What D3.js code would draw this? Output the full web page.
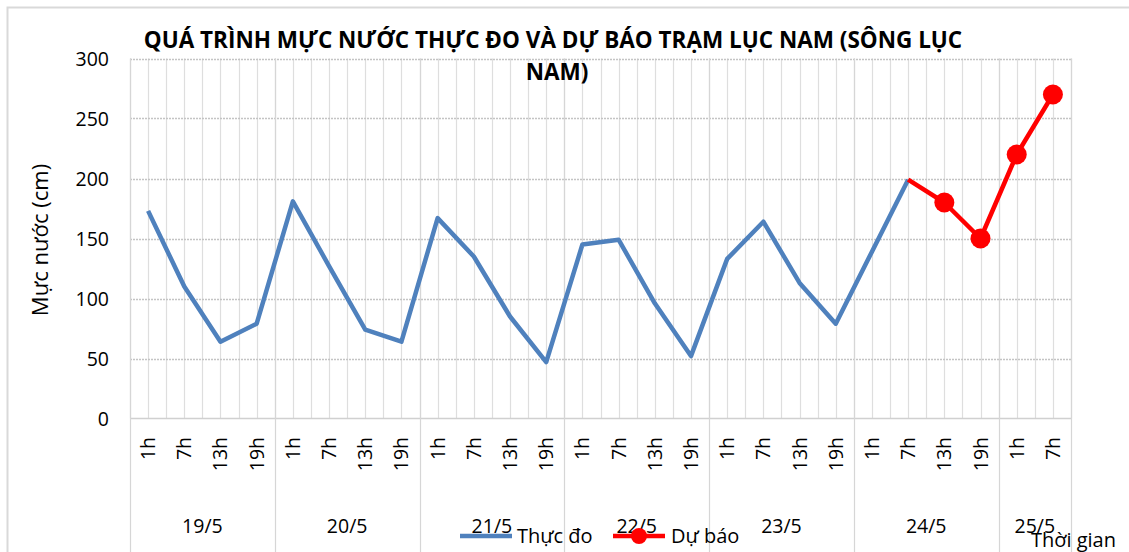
<!DOCTYPE html>
<html>
<head>
<meta charset="utf-8">
<style>
  body { margin: 0; background: #fff; }
  svg text { font-family: "Open Sans", "Noto Sans", sans-serif; fill: #000; }
</style>
</head>
<body>
<svg width="1129" height="552"></svg>
<script src="https://d3js.org/d3.v7.min.js"></script>
<script>

    // days and hours on the category axis
    var days = ["19/5", "20/5", "21/5", "22/5", "23/5", "24/5", "25/5"];
    var hoursPerDay = [4, 4, 4, 4, 4, 4, 2];
    var hourLabels = ["1h", "7h", "13h", "19h"];

    // measured water level (cm), 19/5 1h .. 24/5 7h
    var observed = [173, 110, 64, 79, 181, 127, 74, 64, 167, 135, 85, 47,
                    145, 149, 96, 52, 133, 164, 113, 79, 139, 199];

    // forecast, 24/5 7h .. 25/5 7h (first point joins the observed line)
    var forecastStart = 21;
    var forecast = [199, 180, 150, 220, 270];

    var yTicks = [0, 50, 100, 150, 200, 250, 300];

    var title1 = "QUÁ TRÌNH MỰC NƯỚC THỰC ĐO VÀ DỰ BÁO TRẠM LỤC NAM (SÔNG LỤC";
    var title2 = "NAM)";

    // build the flat list of categories
    var cats = [];
    days.forEach(function (d, di) {
        for (var h = 0; h < hoursPerDay[di]; h++) {
            cats.push({day: d, dayIndex: di, hour: hourLabels[h]});
        }
    });

    var svg = d3.select("svg"),
        plotL = 130, plotR = 1071, plotT = 58.5, plotB = 418.5;

    var x = d3.scaleBand().domain(d3.range(cats.length)).range([plotL, plotR]).padding(0);
    var bw = x.bandwidth();
    var y = d3.scaleLinear().domain([0, 300]).range([plotB, plotT]);
    var cx = function (i) { return x(i) + bw / 2; };

    // chart frame
    svg.append("rect")
        .attr("x", 7.5).attr("y", 7.5).attr("width", 1130).attr("height", 560)
        .attr("fill", "none").attr("stroke", "#d9d9d9").attr("stroke-width", 2);

    // vertical gridlines at every category edge and center
    var vLines = [];
    cats.forEach(function (c, i) { vLines.push(x(i)); vLines.push(cx(i)); });
    vLines.push(plotR);
    svg.append("g").selectAll("line").data(vLines).enter().append("line")
        .attr("x1", function (d) { return Math.round(d) + 0.5; })
        .attr("x2", function (d) { return Math.round(d) + 0.5; })
        .attr("y1", plotT).attr("y2", plotB)
        .attr("stroke", "#dedede").attr("stroke-width", 1.2);

    // horizontal gridlines
    svg.append("g").selectAll("line").data(yTicks.slice(1)).enter().append("line")
        .attr("x1", plotL).attr("x2", plotR)
        .attr("y1", function (d) { return Math.round(y(d)) + 0.5; })
        .attr("y2", function (d) { return Math.round(y(d)) + 0.5; })
        .attr("stroke", "#c4c4c4").attr("stroke-width", 1.4)
        .attr("stroke-dasharray", "2,1");

    // baseline
    svg.append("line")
        .attr("x1", plotL).attr("x2", plotR).attr("y1", plotB).attr("y2", plotB)
        .attr("stroke", "#d0d0d0").attr("stroke-width", 1.5);

    // day separators running down through the label area
    var sepIdx = [0];
    var acc = 0;
    hoursPerDay.forEach(function (n) { acc += n; sepIdx.push(acc); });
    svg.append("g").selectAll("line").data(sepIdx).enter().append("line")
        .attr("x1", function (i) { return Math.round(i < cats.length ? x(i) : plotR) + 0.5; })
        .attr("x2", function (i) { return Math.round(i < cats.length ? x(i) : plotR) + 0.5; })
        .attr("y1", plotT).attr("y2", 552)
        .attr("stroke", "#d6d6d6").attr("stroke-width", 1.2);

    // y axis labels
    svg.append("g").selectAll("text").data(yTicks).enter().append("text")
        .attr("x", 109).attr("y", function (d) { return y(d) + 7; })
        .attr("text-anchor", "end").style("font-size", "19.5px")
        .text(function (d) { return d; });

    // y axis title
    svg.append("text")
        .attr("transform", "translate(48,240) rotate(-90)")
        .attr("text-anchor", "middle").style("font-size", "22px")
        .text("Mực nước (cm)");

    // hour labels (rotated)
    svg.append("g").selectAll("text").data(cats).enter().append("text")
        .attr("transform", function (d, i) { return "translate(" + (cx(i) + 7) + ",437) rotate(-90)"; })
        .attr("text-anchor", "end").style("font-size", "19.5px")
        .text(function (d) { return d.hour; });

    // day labels
    var dayStart = 0;
    var dayCenters = days.map(function (d, di) {
        var s = dayStart, e = dayStart + hoursPerDay[di];
        dayStart = e;
        return (x(s) + (e < cats.length ? x(e) : plotR)) / 2;
    });
    svg.append("g").selectAll("text").data(days).enter().append("text")
        .attr("x", function (d, i) { return dayCenters[i]; }).attr("y", 533)
        .attr("text-anchor", "middle").style("font-size", "19.5px")
        .text(function (d) { return d; });

    // observed line
    var line = d3.line().x(function (d) { return cx(d.i); }).y(function (d) { return y(d.v); });
    var obsData = observed.map(function (v, i) { return {i: i, v: v}; });
    svg.append("path").datum(obsData)
        .attr("d", line).attr("fill", "none")
        .attr("stroke", "#4f81bd").attr("stroke-width", 4.5)
        .attr("stroke-linejoin", "round");

    // forecast line with markers
    var fcData = forecast.map(function (v, k) { return {i: forecastStart + k, v: v}; });
    svg.append("path").datum(fcData)
        .attr("d", line).attr("fill", "none")
        .attr("stroke", "#ff0000").attr("stroke-width", 4.5)
        .attr("stroke-linejoin", "round");
    svg.append("g").selectAll("circle").data(fcData.slice(1)).enter().append("circle")
        .attr("cx", function (d) { return cx(d.i); }).attr("cy", function (d) { return y(d.v); })
        .attr("r", 10).attr("fill", "#ff0000");

    // title
    svg.append("text").attr("x", 553).attr("y", 48)
        .attr("text-anchor", "middle").style("font-size", "22.5px").style("font-weight", "bold")
        .text(title1);
    svg.append("text").attr("x", 557).attr("y", 80)
        .attr("text-anchor", "middle").style("font-size", "22.5px").style("font-weight", "bold")
        .text(title2);

    // legend
    var lg = svg.append("g");
    lg.append("line").attr("x1", 460).attr("x2", 512).attr("y1", 536).attr("y2", 536)
        .attr("stroke", "#4f81bd").attr("stroke-width", 4.5);
    lg.append("text").attr("x", 517).attr("y", 543).style("font-size", "20px").text("Thực đo");
    lg.append("line").attr("x1", 613).attr("x2", 665).attr("y1", 536).attr("y2", 536)
        .attr("stroke", "#ff0000").attr("stroke-width", 4.5);
    lg.append("circle").attr("cx", 639).attr("cy", 536).attr("r", 8).attr("fill", "#ff0000");
    lg.append("text").attr("x", 671).attr("y", 543).style("font-size", "20px").text("Dự báo");

    // x axis title
    svg.append("text").attr("x", 1116).attr("y", 547)
        .attr("text-anchor", "end").style("font-size", "20px").text("Thời gian");

</script>
</body>
</html>
